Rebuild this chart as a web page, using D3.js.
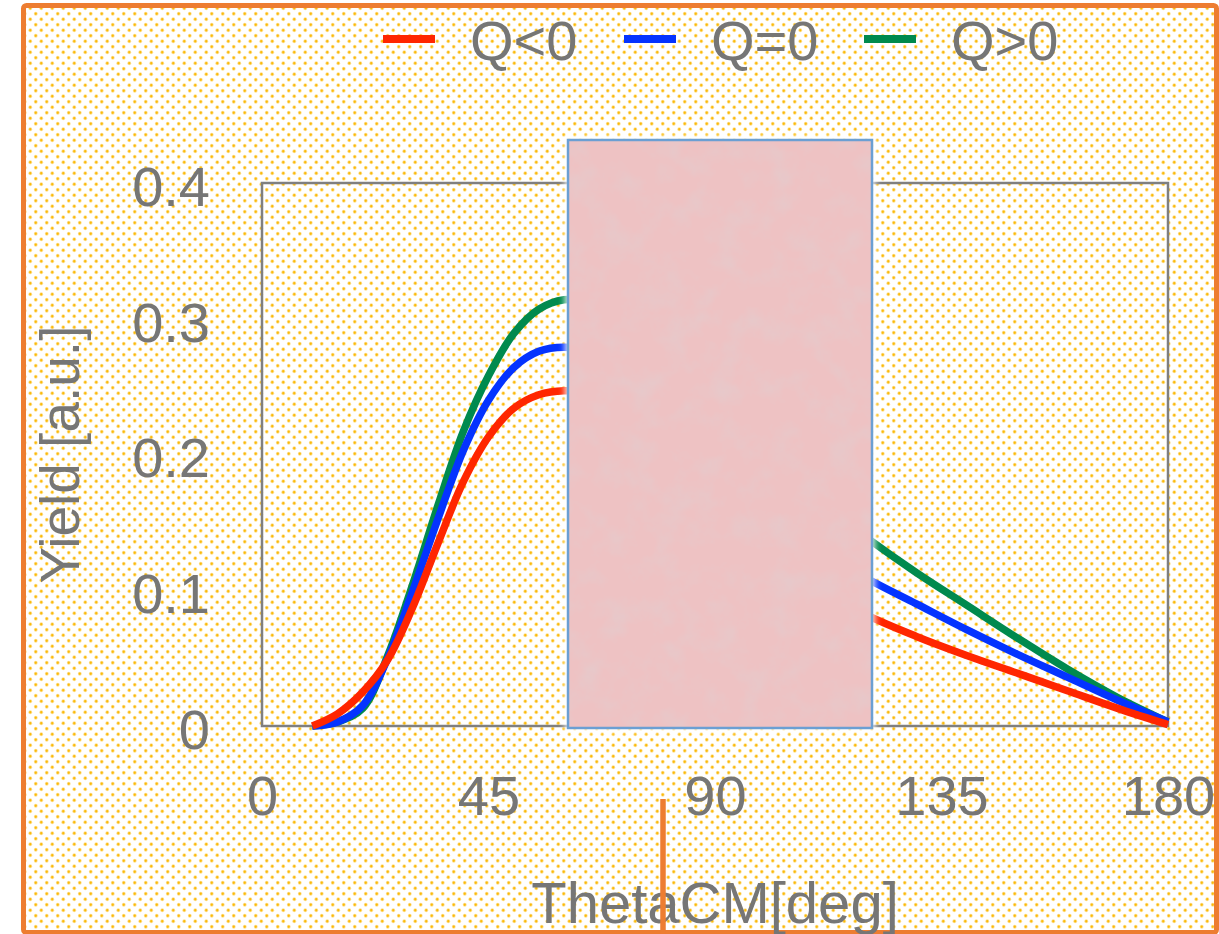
<!DOCTYPE html>
<html>
<head>
<meta charset="utf-8">
<script src="https://cdn.jsdelivr.net/npm/d3@7"></script>
<style>
  html, body { margin: 0; padding: 0; background: #ffffff; }
  svg { display: block; }
  text { font-family: "Liberation Sans", Arial, Helvetica, sans-serif; fill: #767676; }
</style>
</head>
<body>
<svg id="chart" width="1219" height="934"></svg>
<script>
// Angular distributions of the yield for three Q-value cases
const angles    = [10, 15, 20, 25, 30, 35, 40, 45, 50, 55, 60, 65, 70, 80, 90, 100, 110, 120, 130, 140, 150, 160, 170, 180];
const yieldNeg  = [0, 0.009, 0.025, 0.049, 0.088, 0.135, 0.180, 0.213, 0.234, 0.244, 0.247, 0.245, 0.238, 0.210, 0.170, 0.132, 0.103, 0.082, 0.066, 0.052, 0.039, 0.026, 0.013, 0.001];
const yieldZero = [0, 0.003, 0.015, 0.050, 0.100, 0.153, 0.203, 0.240, 0.264, 0.276, 0.279, 0.276, 0.268, 0.240, 0.200, 0.160, 0.131, 0.109, 0.090, 0.071, 0.053, 0.036, 0.019, 0.003];
const yieldPos  = [0, 0.003, 0.013, 0.052, 0.105, 0.163, 0.217, 0.258, 0.289, 0.307, 0.314, 0.312, 0.305, 0.280, 0.240, 0.200, 0.167, 0.139, 0.113, 0.089, 0.065, 0.042, 0.021, 0.003];

const seriesNames  = ["Q<0", "Q=0", "Q>0"];
const seriesColors = ["#ff2600", "#0433ff", "#008a4e"];
const seriesValues = [yieldNeg, yieldZero, yieldPos];

const xTicks = [0, 45, 90, 135, 180];
const yTicks = [0, 0.1, 0.2, 0.3, 0.4];
const yTickLabels = ["0", "0.1", "0.2", "0.3", "0.4"];
const xTitle = "ThetaCM[deg]";
const yTitle = "Yield [a.u.]";

const svg = d3.select("#chart");
const defs = svg.append("defs");

// dotted background fill
const pat = defs.append("pattern")
  .attr("id", "dots").attr("patternUnits", "userSpaceOnUse")
  .attr("width", 11).attr("height", 11);
[[2.75, 2.75], [8.25, 8.25]].forEach(([cx, cy]) => {
  pat.append("circle").attr("cx", cx).attr("cy", cy).attr("r", 1.9).attr("fill", "#fde091");
  pat.append("circle").attr("cx", cx).attr("cy", cy).attr("r", 1.15).attr("fill", "#fbba0a");
});

// mottled paper texture for the note card
const paper = defs.append("filter").attr("id", "paper")
  .attr("x", 0).attr("y", 0).attr("width", 1).attr("height", 1);
paper.append("feTurbulence").attr("type", "fractalNoise")
  .attr("baseFrequency", 0.035).attr("numOctaves", 4).attr("seed", 7).attr("result", "noise");
paper.append("feColorMatrix").attr("in", "noise").attr("type", "matrix")
  .attr("values", "0 0 0 0 0.80  0 0 0 0 0.58  0 0 0 0 0.59  2.2 0 0 0 -0.95");

const glow = defs.append("filter").attr("id", "glow")
  .attr("x", -0.1).attr("y", -0.1).attr("width", 1.2).attr("height", 1.2);
glow.append("feGaussianBlur").attr("stdDeviation", 3);

// outer frame
svg.append("rect")
  .attr("x", 23.5).attr("y", 5.5).attr("width", 1193).attr("height", 927)
  .attr("rx", 3)
  .attr("fill", "url(#dots)")
  .attr("stroke", "#ed7d31").attr("stroke-width", 5);

const x = d3.scaleLinear().domain([0, 180]).range([262, 1168]);
const y = d3.scaleLinear().domain([0, 0.4]).range([726, 183]);

// plot box
svg.append("rect")
  .attr("x", x(0)).attr("y", y(0.4))
  .attr("width", x(180) - x(0)).attr("height", y(0) - y(0.4))
  .attr("fill", "none").attr("stroke", "#7f7f7f").attr("stroke-width", 2.5);

// axes (labels only)
const fontSize = 56;
const xAxis = svg.append("g")
  .attr("transform", `translate(0,${y(0)})`)
  .call(d3.axisBottom(x).tickValues(xTicks).tickSize(0).tickPadding(49).tickFormat(d3.format("d")));
xAxis.select(".domain").remove();
xAxis.selectAll("text").attr("font-size", fontSize).attr("fill", "#767676")
  .style("font-family", "'Liberation Sans', Arial, sans-serif");

const yAxis = svg.append("g")
  .attr("transform", `translate(${x(0)},0)`)
  .call(d3.axisLeft(y).tickValues(yTicks).tickSize(0).tickPadding(52)
    .tickFormat((d, i) => yTickLabels[i]));
yAxis.select(".domain").remove();
yAxis.selectAll("text").attr("font-size", fontSize).attr("fill", "#767676")
  .attr("dy", "0.40em")
  .style("font-family", "'Liberation Sans', Arial, sans-serif");

// axis titles
svg.append("text")
  .attr("x", x(90)).attr("y", 923)
  .attr("text-anchor", "middle").attr("font-size", 58)
  .text(xTitle);

svg.append("text")
  .attr("transform", `translate(79,${(y(0) + y(0.4)) / 2}) rotate(-90)`)
  .attr("text-anchor", "middle").attr("font-size", 55)
  .text(yTitle);

// curves: Q>0 first, Q<0 on top
const line = d3.line()
  .x((d, i) => x(angles[i]))
  .y(d => y(d))
  .curve(d3.curveCatmullRom.alpha(0.5));

const order = [2, 1, 0];
svg.append("g").selectAll("path")
  .data(order)
  .join("path")
  .attr("d", k => line(seriesValues[k]))
  .attr("fill", "none")
  .attr("stroke", k => seriesColors[k])
  .attr("stroke-width", 7.5)
  .attr("stroke-linejoin", "round")
  .attr("stroke-linecap", "butt");

// legend
const legend = svg.append("g");
const legendX = [383, 624, 864];
seriesNames.forEach((name, i) => {
  legend.append("line")
    .attr("x1", legendX[i]).attr("x2", legendX[i] + 52)
    .attr("y1", 39).attr("y2", 39)
    .attr("stroke", seriesColors[i]).attr("stroke-width", 8);
  legend.append("text")
    .attr("x", legendX[i] + 87).attr("y", 60)
    .attr("font-size", fontSize)
    .text(name);
});

// note card laid over the middle of the plot
const card = { x: 568, y: 140, w: 304, h: 588 };
svg.append("rect")
  .attr("x", card.x - 3).attr("y", card.y - 3)
  .attr("width", card.w + 6).attr("height", card.h + 6)
  .attr("fill", "#ffffff").attr("opacity", 0.9)
  .attr("filter", "url(#glow)");
svg.append("rect")
  .attr("x", card.x).attr("y", card.y).attr("width", card.w).attr("height", card.h)
  .attr("fill", "#eec2c3");
svg.append("rect")
  .attr("x", card.x).attr("y", card.y).attr("width", card.w).attr("height", card.h)
  .attr("fill", "#000").attr("filter", "url(#paper)");
svg.append("rect")
  .attr("x", card.x).attr("y", card.y).attr("width", card.w).attr("height", card.h)
  .attr("fill", "none").attr("stroke", "#6b9fd3").attr("stroke-width", 2.5);

// orange marker stroke at the bottom
svg.append("line")
  .attr("x1", 663).attr("x2", 663).attr("y1", 799).attr("y2", 934)
  .attr("stroke", "#ed7d31").attr("stroke-width", 5.5);
</script>
</body>
</html>
